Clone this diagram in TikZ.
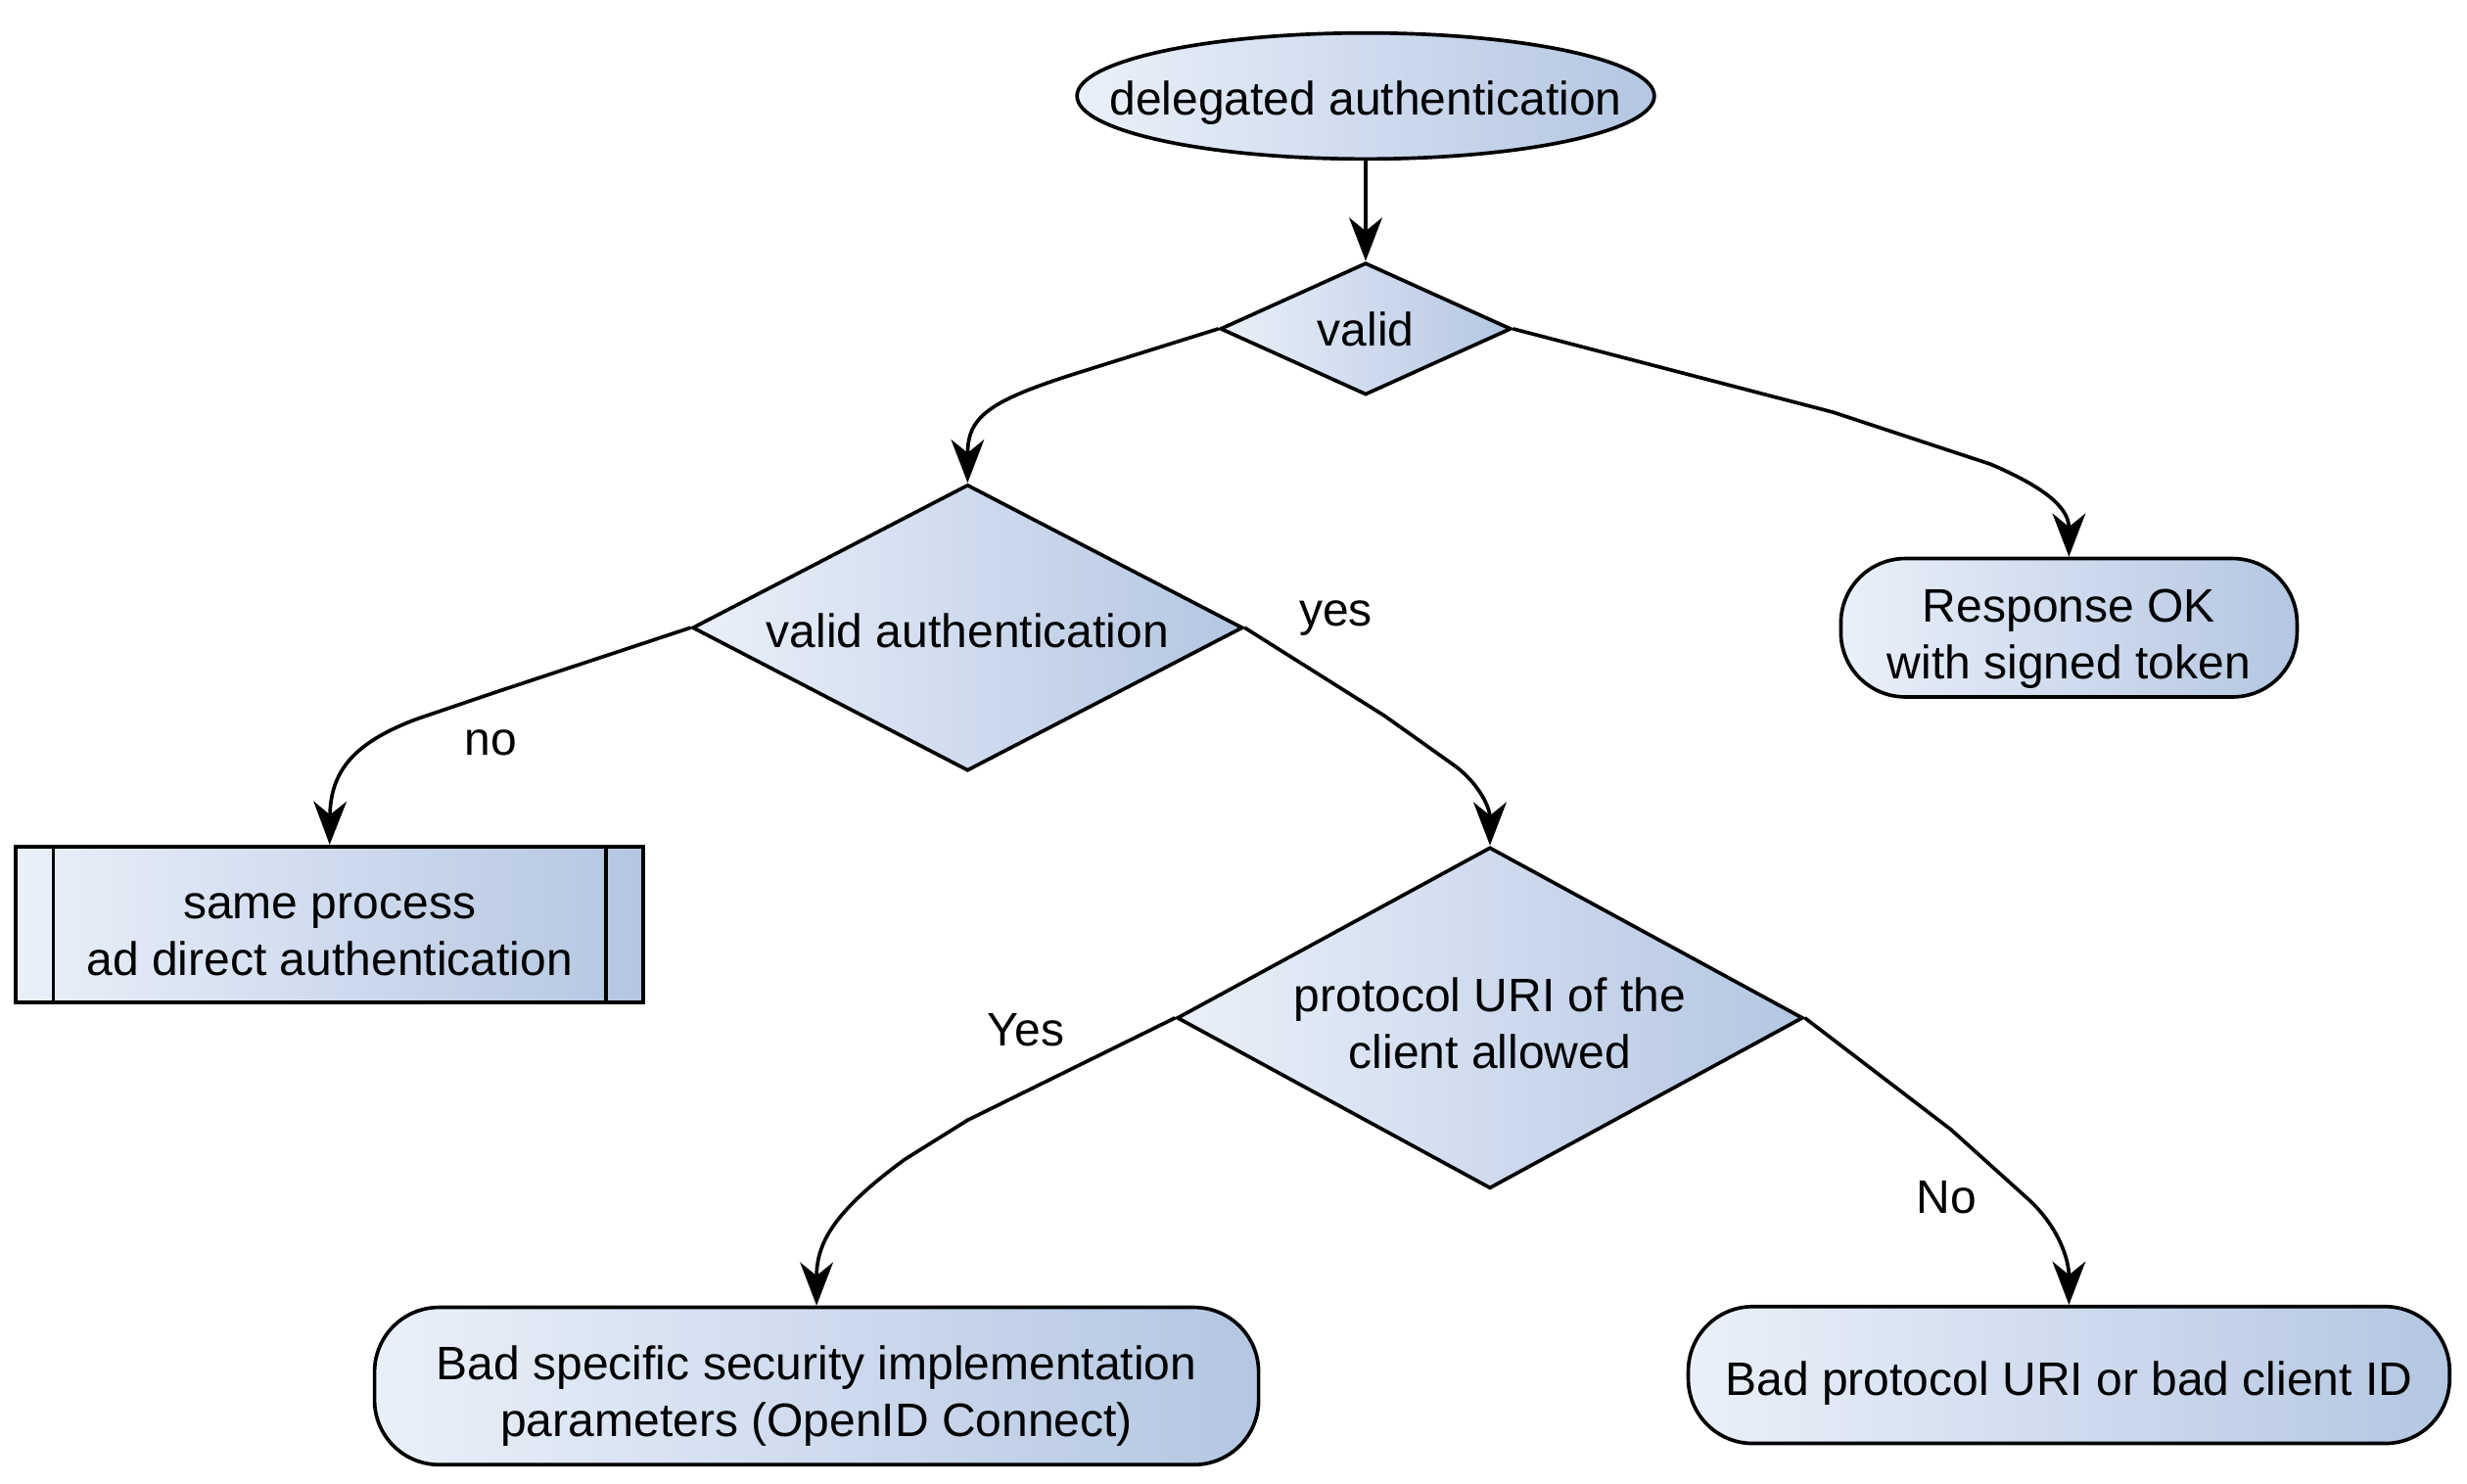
\documentclass[tikz,border=0pt]{standalone}
\usepackage{fontspec}
\setmainfont{Liberation Sans}
\usetikzlibrary{shapes.geometric,arrows.meta}
\definecolor{gL}{RGB}{234,240,249}
\definecolor{gR}{RGB}{180,198,226}
\newcommand{\lowerby}[2]{\raisebox{0pt}[\dimexpr\height+#1\relax][\depth]{#2}}
\newcommand{\twoline}[2]{\lowerby{8pt}{\begin{tabular}{@{}c@{}}#1\\#2\end{tabular}}}
\tikzset{
  base/.style={draw=black, line width=1.3pt, left color=gL, right color=gR, inner sep=0pt, align=center, font=\fontsize{17}{20.5}\selectfont},
  startnode/.style={base, ellipse, inner xsep=-0.7cm, inner ysep=0.2cm, minimum width=7.34cm, minimum height=1.54cm},
  decision/.style={base, diamond},
  endbox/.style={base, rectangle, rounded corners=0.82cm},
  subproc/.style={base, rectangle},
  conn/.style={draw=black, line width=1.3pt, -{Stealth[length=0.55cm,width=0.42cm,inset=0.17cm]}},
  lbl/.style={font=\fontsize{17}{20.5}\selectfont, inner sep=0pt}
}
\begin{document}
\begin{tikzpicture}[x=0.02cm,y=-0.02cm]
\useasboundingbox (0,0) rectangle (1568,943);
\node[startnode] (start) at (868,61) {\lowerby{5pt}{delegated authentication}};
\node[decision, aspect=2.2, minimum width=3.7cm, minimum height=1.68cm] (valid) at (868,209) {valid};
\node[decision, aspect=1.92, minimum width=7.0cm, minimum height=3.64cm] (vauth) at (615,399) {\lowerby{2pt}{valid authentication}};
\node[decision, aspect=1.84, inner xsep=-0.4cm, minimum width=7.96cm, minimum height=4.34cm] (proto) at (947,647) {\twoline{protocol URI of the}{client allowed}};
\node[endbox, minimum width=5.8cm, minimum height=1.76cm] (resp) at (1315,399) {\twoline{Response OK}{with signed token}};
\node[subproc, minimum width=7.98cm, minimum height=1.98cm] (sub) at (209.5,587.5) {\twoline{same process}{ad direct authentication}};
\draw[line width=1.3pt] ([xshift=0.5cm]sub.north west) -- ([xshift=0.5cm]sub.south west);
\draw[line width=1.3pt] ([xshift=-0.5cm]sub.north east) -- ([xshift=-0.5cm]sub.south east);
\node[endbox, minimum width=11.24cm, minimum height=2.0cm] (badspec) at (519,881) {\twoline{Bad specific security implementation}{parameters (OpenID Connect)}};
\node[endbox, minimum width=9.68cm, minimum height=1.74cm] (badproto) at (1315,874) {\lowerby{6pt}{Bad protocol URI or bad client ID}};

\draw[conn] (start.south) -- (valid.north);
\draw[conn] (valid.west) -- (685,237) .. controls (628,255) and (615,265) .. (vauth.north);
\draw[conn] (valid.east) -- (1165,262) -- (1265,295) .. controls (1305,312) and (1315,325) .. (resp.north);
\draw[conn] (vauth.west) -- (315,440) -- (265,457) .. controls (225,472) and (210,490) .. (sub.north);
\draw[conn] (vauth.east) -- (880,455) -- (925,487) .. controls (942,500) and (947,515) .. (proto.north);
\draw[conn] (proto.west) -- (615,712) -- (575,737) .. controls (530,770) and (519,790) .. (badspec.north);
\draw[conn] (proto.east) -- (1240,718) -- (1290,763) .. controls (1308,780) and (1315,800) .. (badproto.north);

\node[lbl] (lno) at (312,472) {no};
\node[lbl] (lyes) at (849,393) {yes};
\node[lbl] (lYes) at (652,655) {Yes};
\node[lbl] (lNo) at (1237,761) {No};
\end{tikzpicture}
\end{document}
